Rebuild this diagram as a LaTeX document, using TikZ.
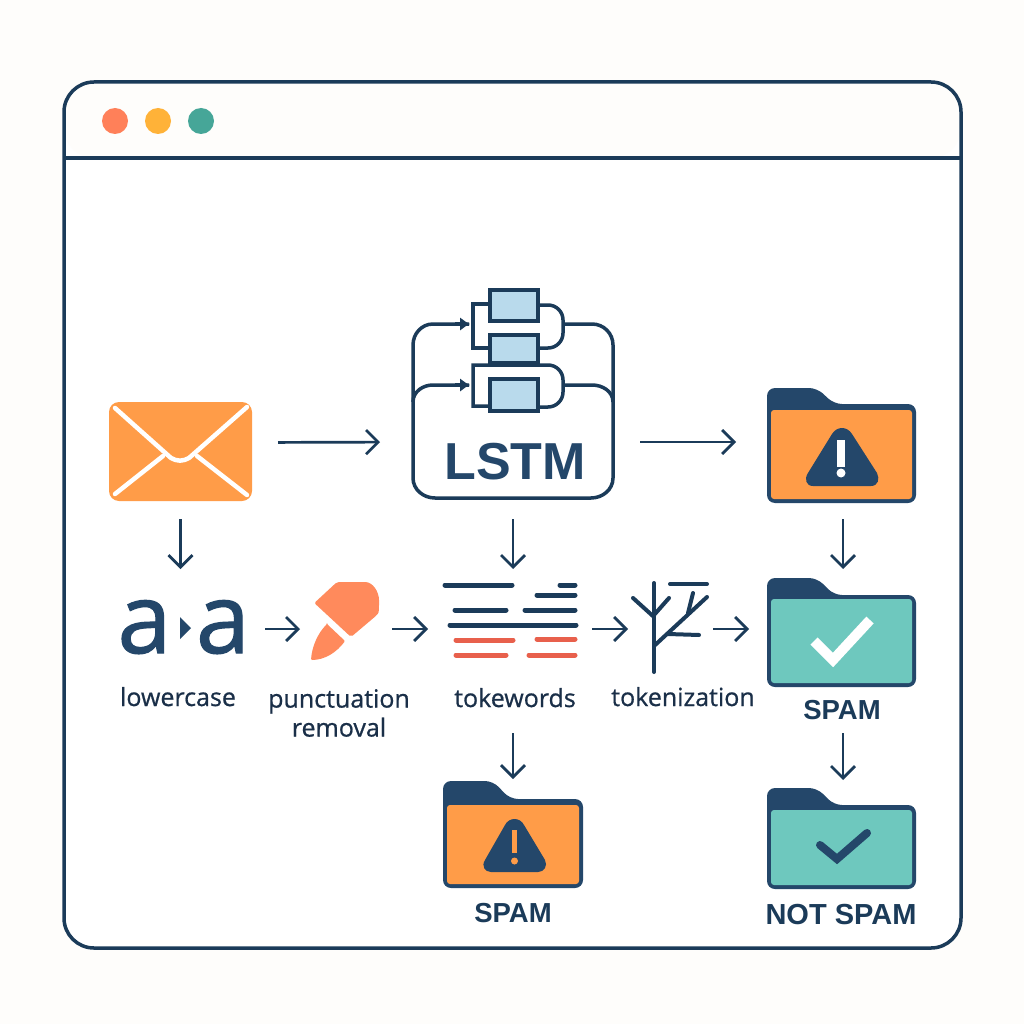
\documentclass[tikz,border=0pt]{standalone}
\usepackage{fontspec}
\usetikzlibrary{arrows.meta}
\setmainfont{Open Sans}[RawFeature={embolden=0.7}]
\newfontfamily\glyphfont{Open Sans}[RawFeature={embolden=1.2}]
\newfontfamily\headfont{Liberation Sans}
\definecolor{ink}{HTML}{1B3B59}
\definecolor{captionink}{HTML}{1A2F48}
\definecolor{folderdark}{HTML}{24476A}
\definecolor{paper}{HTML}{FEFDFB}
\definecolor{mailorange}{HTML}{FF9C48}
\definecolor{tealfill}{HTML}{6EC8BE}
\definecolor{coral}{HTML}{FF8A5C}
\definecolor{tokenred}{HTML}{E8604C}
\definecolor{cellblue}{HTML}{B9DAEC}
\definecolor{dotcoral}{HTML}{FF8059}
\definecolor{dotamber}{HTML}{FFB238}
\definecolor{dotteal}{HTML}{46A698}
\tikzset{
  flow/.style={ink,line width=2.7pt,-{Straight Barb[length=12pt,width=24pt,line width=2.7pt]}},
  holder/.style={inner sep=0pt,outer sep=0pt},
  caption/.style={inner sep=0pt,outer sep=0pt,text=captionink,font=\fontsize{25}{29}\selectfont},
  verdict/.style={inner sep=0pt,outer sep=0pt,text=ink,font=\headfont\bfseries\fontsize{27.5}{30}\selectfont},
  wire/.style={ink,line width=3.5pt},
  cell/.style={draw=ink,line width=3.6pt,fill=cellblue},
  tokenbar/.style={line width=5pt,line cap=round},
  twig/.style={ink,line width=4pt,line cap=round},
  lettera/.style={holder,text=folderdark,font=\glyphfont\fontsize{97}{100}\selectfont,anchor=base}
}
\newcommand{\folder}[8]{
  \begin{scope}[shift={(#2,#3)}]
    \fill[folderdark,rounded corners=8pt] (0,#5) -- (0,0) -- (50,0) -- (67,#6) -- (#4,#6) -- (#4,#5) -- cycle;
    \fill[#8,rounded corners=3pt] (4,#7) rectangle ({#4-4},{#5-4});
    \node[holder,minimum width=#4 pt,minimum height=#5 pt] (#1) at ({#4/2},{#5/2}) {};
  \end{scope}
}
\begin{document}
\begin{tikzpicture}[x=1pt,y=-1pt]
      \useasboundingbox (0,0) rectangle (1024,1024);
      \fill[paper] (0,0) rectangle (1024,1024);
      \fill[white,rounded corners=30pt] (64,82) rectangle (961,948);
      \fill[paper,rounded corners=30pt] (64,158) -- (64,82) -- (961,82) -- (961,158) -- cycle;
      \draw[ink,line width=3.5pt,rounded corners=30pt] (64,82) rectangle (961,948);
      \draw[ink,line width=3.5pt] (64,158) -- (961,158);
      \fill[dotcoral] (115,121) circle (13pt);
      \fill[dotamber] (158,121) circle (13pt);
      \fill[dotteal] (201,121) circle (13pt);

      \node[holder,fill=mailorange,rounded corners=10pt,minimum width=143pt,minimum height=99pt] (mail) at (180.5,451.5) {};
      \draw[white,line width=4.5pt,line cap=round,line join=round] (115,408) -- (171,458) to[bend right=30] (189,458) -- (247,407);
      \draw[white,line width=4.5pt,line cap=round] (115,494) -- (163,456);
      \draw[white,line width=4.5pt,line cap=round] (197,456) -- (247,495);

      \node[holder,minimum width=202pt,minimum height=173pt] (lstm) at (513,411.5) {};
      \draw[wire] (469,324) -- (433,324) to[out=180,in=90] (413,345) -- (413,478) to[out=-90,in=180] (435,498) -- (591,498) to[out=0,in=-90] (613,478) -- (613,345) to[out=90,in=0] (592,324) -- (563,324);
      \draw[wire] (413,402) to[out=90,in=180] (433,385) -- (469,385);
      \draw[wire] (563,385) -- (592,385) to[out=0,in=90] (613,402);
      \draw[wire,-{Latex[length=10pt,width=14pt]}] (455,324) -- (470,324);
      \draw[wire,-{Latex[length=10pt,width=14pt]}] (455,385) -- (470,385);
      \draw[wire] (490,304) -- (473,304) -- (473,348) -- (490,348);
      \draw[wire] (538,305) -- (548,305) to[out=0,in=90] (563,320) -- (563,333) to[out=-90,in=0] (548,348) -- (538,348);
      \draw[wire] (490,406) -- (473,406) -- (473,365) -- (548,365) to[out=0,in=90] (563,380) -- (563,392) to[out=-90,in=0] (548,407) -- (538,407);
      \filldraw[cell] (490,290) rectangle (538,321);
      \filldraw[cell] (490,335) rectangle (538,363);
      \filldraw[cell] (490,379) rectangle (538,411);
      \node[holder,text=folderdark,font=\headfont\bfseries\fontsize{52}{56}\selectfont,anchor=base] (lstmname) at (515,479) {LSTM};

      \folder{alertfolder}{767}{388}{149}{115}{16}{22}{mailorange}
      \fill[folderdark] (813,486) -- (871,486) .. controls (878,486) and (880,479) .. (877,473) -- (852,434) .. controls (847,426) and (837,426) .. (832,434) -- (808,473) .. controls (804,479) and (806,486) .. (813,486) -- cycle;
      \fill[white] (837,440) rectangle (845,467);
      \fill[white] (841,473) circle (4.5pt);

      \node[holder,minimum width=122pt,minimum height=56pt] (acase) at (184,629) {};
      \node[lettera] (lowera) at (144.5,653) {a};
      \node[lettera] (lowerb) at (223,653) {a};
      \fill[folderdark] (180,617) -- (191,628) -- (180,639) -- cycle;

      \node[holder,minimum width=68pt,minimum height=78pt] (marker) at (345,621) {};
      \fill[coral,rounded corners=2pt] (314.3,603) -- (337,582) -- (363,582) .. controls (373,582) and (379,592) .. (379,602) .. controls (379,608) and (379,612) .. (377,615) -- (351,637) -- cycle;
      \fill[coral,rounded corners=1pt] (327,624) -- (345,641) .. controls (337,652) and (325,660) .. (311,660) .. controls (312,646) and (318,633) .. (327,624) -- cycle;

      \node[holder,minimum width=134pt,minimum height=75pt] (tokens) at (510,620.5) {};
      \draw[tokenbar,ink] (445,585) -- (512,585);
      \draw[tokenbar,ink] (560,585) -- (575,585);
      \draw[tokenbar,ink] (537,595) -- (575,595);
      \draw[tokenbar,ink] (455,610) -- (506,610);
      \draw[tokenbar,ink] (525,610) -- (575,610);
      \draw[tokenbar,ink] (450,625) -- (576,625);
      \draw[tokenbar,tokenred] (456,640) -- (513,640);
      \draw[tokenbar,tokenred] (537,639) -- (575,639);
      \draw[tokenbar,tokenred] (456,655) -- (506,655);
      \draw[tokenbar,tokenred] (529,655) -- (575,655);

      \node[holder,minimum width=74pt,minimum height=89pt] (tree) at (670,627.5) {};
      \draw[twig] (654,583) -- (654,672);
      \draw[twig] (633,598) -- (654,617);
      \draw[twig] (669,598) -- (654,615);
      \draw[twig] (654,646) -- (707,597);
      \draw[twig] (670,584) -- (707,584);
      \draw[twig] (693,593) -- (688,613);
      \draw[twig] (668,634) -- (699,635);

      \folder{spamfolder}{767}{578}{149}{109}{17}{21}{tealfill}
      \draw[white,line width=10pt] (814,641) -- (833,660) -- (870,620);

      \folder{savefolder}{443}{781}{140}{107}{18}{24}{mailorange}
      \fill[folderdark] (491,872) -- (538,872) .. controls (544,872) and (548,866) .. (545,860) -- (524,825) .. controls (520,817) and (509,817) .. (505,825) -- (485,860) .. controls (481,866) and (485,872) .. (491,872) -- cycle;
      \fill[mailorange] (512,830) rectangle (517,853);
      \fill[mailorange] (514.5,861) circle (3.5pt);

      \folder{cleanfolder}{767}{788}{149}{101}{17}{22}{tealfill}
      \draw[folderdark,line width=8pt,line cap=round] (820,845) -- (837,859) -- (867,833);

      \node[caption,anchor=base] (casename) at (178,706) {lowercase};
      \node[caption,align=center] (markname) at (339,713) {punctuation\\removal};
      \node[caption,anchor=base] (tokename) at (515,707) {tokewords};
      \node[caption,anchor=base] (treename) at (683,706) {tokenization};
      \node[verdict,anchor=base] (spamname) at (842,719) {SPAM};
      \node[verdict,anchor=base] (savename) at (513,922) {SPAM};
      \node[verdict,anchor=base,font=\headfont\bfseries\fontsize{29}{32}\selectfont] (cleanname) at (841,924) {NOT SPAM};

      \draw[flow,shorten <=26pt,shorten >=32pt] ([yshift=9pt]mail.east) -- ([yshift=-30.5pt]lstm.west);
      \draw[flow,shorten <=26pt,shorten >=31pt] ([yshift=-30.5pt]lstm.east) -- ([yshift=-30.5pt]lstm.east -| alertfolder.west);
      \draw[flow,shorten <=18pt,shorten >=32pt] (mail.south) -- (mail.south |- acase.north);
      \draw[flow,shorten <=21pt,shorten >=14pt] (lstm.south) -- (lstm.south |- tokens.north);
      \draw[flow,shorten <=16pt,shorten >=9pt] ([xshift=1.5pt]alertfolder.south) -- ([xshift=1.5pt]spamfolder.north);
      \draw[flow,shorten <=20pt,shorten >=11pt] (acase.east) -- (acase.east -| marker.west);
      \draw[flow,shorten <=13pt,shorten >=15pt] (acase.east -| marker.east) -- (acase.east -| tokens.west);
      \draw[flow,shorten <=15pt,shorten >=5pt] (acase.east -| tokens.east) -- (acase.east -| tree.west);
      \draw[flow,shorten <=6pt,shorten >=18pt] (acase.east -| tree.east) -- (acase.east -| spamfolder.west);
      \draw[flow,shorten <=26pt,shorten >=2pt] (savefolder.north |- tokename.south) -- (savefolder.north);
      \draw[flow,shorten <=14pt,shorten >=8pt] ([xshift=1.5pt]cleanfolder.north |- spamname.south) -- ([xshift=1.5pt]cleanfolder.north);
    \end{tikzpicture}
\end{document}
